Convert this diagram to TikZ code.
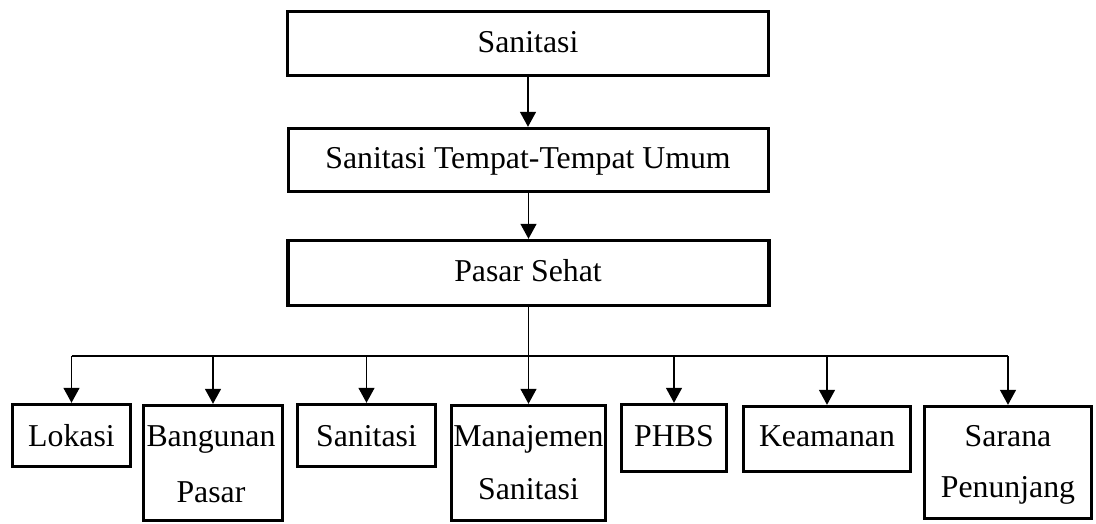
\documentclass[tikz,border=0pt]{standalone}
\usepackage{fontspec}
\setmainfont{Liberation Serif}
\usetikzlibrary{arrows.meta,calc}
\begin{document}
\begin{tikzpicture}[x=1pt,y=-1pt,
  box/.style={draw=black, line width=3.4pt, inner sep=0pt, rectangle},
  txt/.style={anchor=base, inner sep=0pt, font=\fontsize{31.8}{38}\selectfont},
  conn/.style={line width=1.4pt},
  arr/.style={line width=1.4pt, -{Triangle[length=15pt,width=16pt]}}]
\useasboundingbox (0,0) rectangle (1096,523);
% top chain
\node[box, minimum width=481pt, minimum height=64pt] (s1) at (528,43.5) {};
\node[box, minimum width=480pt, minimum height=63pt] (s2) at (528.5,160) {};
\node[box, minimum width=481pt, minimum height=65pt] (s3) at (528.5,273) {};
\node[txt] (t1) at (528,52) {Sanitasi};
\node[txt] (t2) at (528,168) {Sanitasi Tempat-Tempat Umum};
\node[txt] (t3) at (528,281) {Pasar Sehat};
% bottom boxes
\node[box, minimum width=118pt, minimum height=62pt] (lok) at (71.5,435.5) {};
\node[box, minimum width=139pt, minimum height=115pt] (ban) at (213,463) {};
\node[box, minimum width=138pt, minimum height=62pt] (san) at (366.5,435.5) {};
\node[box, minimum width=154pt, minimum height=115pt] (man) at (528.5,463) {};
\node[box, minimum width=105pt, minimum height=67pt] (phb) at (674,438) {};
\node[box, minimum width=167pt, minimum height=65pt] (kea) at (827,439) {};
\node[box, minimum width=167pt, minimum height=112pt] (sar) at (1008,462.5) {};
\node[txt] (tl) at (71.5,446) {Lokasi};
\node[txt] (tb1) at (211,446) {Bangunan};
\node[txt] (tb2) at (211,502) {Pasar};
\node[txt] (ts) at (366.5,446) {Sanitasi};
\node[txt] (tm1) at (528.5,446) {Manajemen};
\node[txt] (tm2) at (528.5,499) {Sanitasi};
\node[txt] (tp) at (674,446) {PHBS};
\node[txt] (tk) at (827,446) {Keamanan};
\node[txt] (tsr1) at (1008,446) {Sarana};
\node[txt] (tsr2) at (1008,497) {Penunjang};
% connectors
\draw[arr] (s1.south) -- (s1.south |- s2.north);
\draw[arr] (s2.south) -- (s2.south |- s3.north);
\coordinate (bus) at (528.5,356);
\draw[conn] (s3.south) -- (bus);
\draw[conn] (lok.north |- bus) -- (sar.north |- bus);
\foreach \n in {lok,ban,san,man,phb,kea,sar}
  \draw[arr] (\n.north |- bus) -- (\n.north);
\end{tikzpicture}
\end{document}
